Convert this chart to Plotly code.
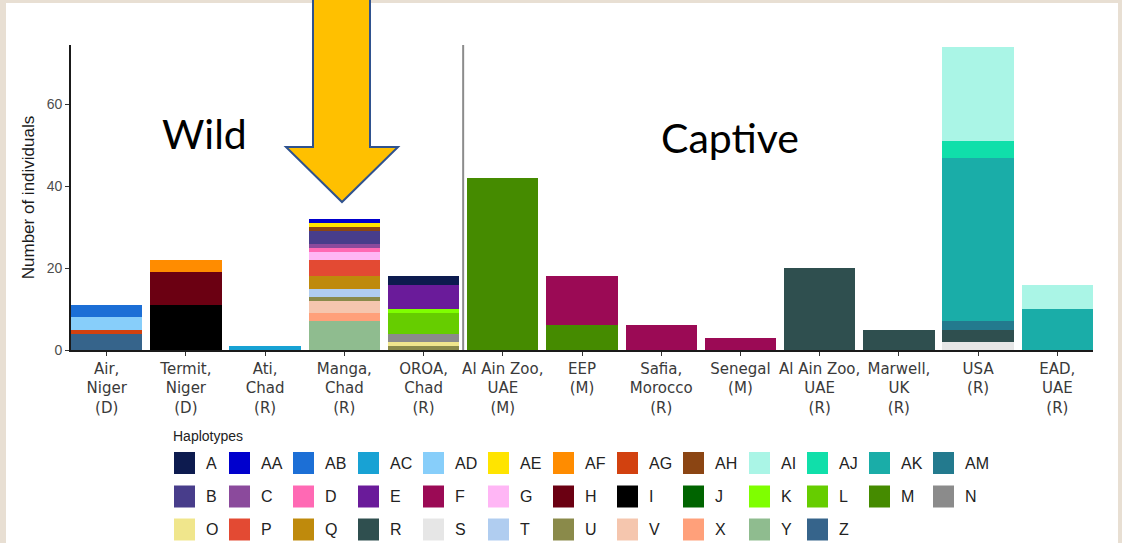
import plotly.graph_objects as go

# ---------------- data ----------------
locations = [
    "Air,<br>Niger<br>(D)", "Termit,<br>Niger<br>(D)", "Ati,<br>Chad<br>(R)",
    "Manga,<br>Chad<br>(R)", "OROA,<br>Chad<br>(R)", "Al Ain Zoo,<br>UAE<br>(M)",
    "EEP<br>(M)", "Safia,<br>Morocco<br>(R)", "Senegal<br>(M)",
    "Al Ain Zoo,<br>UAE<br>(R)", "Marwell,<br>UK<br>(R)", "USA<br>(R)", "EAD,<br>UAE<br>(R)",
]

haplotypes = ["A", "AA", "AB", "AC", "AD", "AE", "AF", "AG", "AH", "AI", "AJ", "AK", "AM",
              "B", "C", "D", "E", "F", "G", "H", "I", "J", "K", "L", "M", "N",
              "O", "P", "Q", "R", "S", "T", "U", "V", "X", "Y", "Z"]

hap_colors = ["#0D1B4F", "#0000CD", "#1C6FD6", "#18A2D4", "#87CEFA", "#FFE400", "#FF8C00",
              "#D2410F", "#8B4513", "#AAF5E6", "#10DFAA", "#1AADA8", "#237A8E",
              "#483D8B", "#8B4A9C", "#FF69B4", "#6A1B9A", "#9B0A55", "#FFB6F5", "#6B0012",
              "#000000", "#006400", "#7FFF00", "#66CD00", "#458B00", "#8B8B8B",
              "#F0E68C", "#E34A33", "#BF8A0C", "#2F4F4F", "#E6E6E6", "#B0CDF0", "#8A8A4A",
              "#F5C6AE", "#FFA07A", "#8FBC8F", "#36648B"]

air_niger = {"AB": 3, "AD": 3, "AG": 1, "Z": 4}
termit_niger = {"AF": 3, "H": 8, "I": 11}
ati_chad = {"AC": 1}
manga_chad = {"AA": 1, "AE": 1, "AH": 1, "B": 3, "C": 1, "D": 1, "G": 2, "P": 4,
              "Q": 3, "T": 2, "U": 1, "V": 3, "X": 2, "Y": 7}
oroa_chad = {"A": 2, "E": 6, "K": 1, "L": 5, "N": 2, "O": 1, "U": 1}
alain_m = {"M": 42}
eep_m = {"F": 12, "M": 6}
safia_morocco = {"F": 6}
senegal_m = {"F": 3}
alain_r = {"R": 20}
marwell_uk = {"R": 5}
usa_r = {"AI": 23, "AJ": 4, "AK": 40, "AM": 2, "R": 3, "S": 2}
ead_uae = {"AI": 6, "AK": 10}

compositions = [air_niger, termit_niger, ati_chad, manga_chad, oroa_chad, alain_m, eep_m,
                safia_morocco, senegal_m, alain_r, marwell_uk, usa_r, ead_uae]

y_ticks = [0, 20, 40, 60]

# ---------------- layout constants ----------------
W, H = 1122, 543
PL, PR, PT, PB = 71, 1093, 45, 350


def px(x):
    return (x - PL) / (PR - PL)


def py(y):
    return (PB - y) / (PB - PT)


fig = go.Figure()

# stacked bars: first haplotype (alphabetically) on top, as in ggplot
for hap, col in reversed(list(zip(haplotypes, hap_colors))):
    vals = [c.get(hap, 0) for c in compositions]
    if sum(vals) == 0:
        continue
    fig.add_trace(go.Bar(
        x=locations, y=vals, name=hap, marker=dict(color=col, line=dict(width=0)),
        showlegend=False,
    ))

shapes = []
annotations = []

# page frame (slide look)
shapes.append(dict(type="rect", xref="paper", yref="paper", layer="below",
                   x0=px(6), x1=px(1118), y0=py(543), y1=py(3),
                   fillcolor="white", line=dict(width=0)))

# separator between wild and captive
shapes.append(dict(type="line", xref="x", yref="paper", x0=4.5, x1=4.5, y0=0, y1=1,
                   line=dict(color="#8C8C8C", width=2)))

# big arrow pointing at Manga
arrow_pts = [(313, -5), (313, 147), (286, 147), (342, 202), (398, 147), (370, 147), (370, -5)]
path = "M " + " L ".join(f"{px(a):.5f},{py(b):.5f}" for a, b in arrow_pts) + " Z"
shapes.append(dict(type="path", xref="paper", yref="paper", path=path,
                   fillcolor="#FFC000", line=dict(color="#2F528F", width=2), layer="above"))

annotations.append(dict(text="Wild", xref="paper", yref="paper", x=px(204), y=py(133),
                        showarrow=False, xanchor="center", yanchor="middle",
                        font=dict(family="Lato", size=41, color="#000000")))
annotations.append(dict(text="Captive", xref="paper", yref="paper", x=px(730), y=py(137),
                        showarrow=False, xanchor="center", yanchor="middle",
                        font=dict(family="Lato", size=41, color="#000000")))

# manual legend (ggplot-like)
col_x = [174, 229, 293, 358, 423, 488, 553, 617, 683, 749, 807, 869, 933]
row_y = [463, 496.5, 529.5]
sw, sh = 21, 22
annotations.append(dict(text="Haplotypes", xref="paper", yref="paper", x=px(171), y=py(436),
                        showarrow=False, xanchor="left", yanchor="middle",
                        font=dict(family="Liberation Sans", size=14, color="#222222")))
for i, (hap, col) in enumerate(zip(haplotypes, hap_colors)):
    r, c = divmod(i, 13)
    x0 = col_x[c]
    yc = row_y[r]
    shapes.append(dict(type="rect", xref="paper", yref="paper",
                       x0=px(x0), x1=px(x0 + sw), y0=py(yc + sh / 2), y1=py(yc - sh / 2),
                       fillcolor=col, line=dict(width=0)))
    annotations.append(dict(text=hap, xref="paper", yref="paper", x=px(x0 + sw + 9), y=py(yc),
                            showarrow=False, xanchor="left", yanchor="middle",
                            font=dict(family="Liberation Sans", size=16, color="#222222")))

fig.update_layout(
    width=W, height=H,
    margin=dict(l=PL, r=W - PR, t=PT, b=H - PB, pad=0),
    paper_bgcolor="#E8DFD3", plot_bgcolor="white",
    barmode="stack", bargap=0.1,
    shapes=shapes, annotations=annotations,
    showlegend=False,
)
fig.update_xaxes(
    range=[-0.45, 12.45], showgrid=False, zeroline=False,
    showline=True, linecolor="#1A1A1A", linewidth=1.6,
    ticks="outside", ticklen=4, tickcolor="#333333", tickwidth=1,
    tickfont=dict(family="DejaVu Sans", size=15, color="#3A3A3A"),
    tickangle=0,
)
fig.update_yaxes(
    range=[0, 74.5], showgrid=False, zeroline=False,
    showline=True, linecolor="#1A1A1A", linewidth=1.6,
    ticks="outside", ticklen=4, tickcolor="#333333", tickwidth=1,
    tickvals=y_ticks, ticktext=[str(v) for v in y_ticks],
    tickfont=dict(family="Liberation Sans", size=14, color="#4D4D4D"),
    title=dict(text="Number of individuals", standoff=8,
               font=dict(family="Liberation Sans", size=17, color="#1A1A1A")),
)

fig.write_html(
    "out.html",
    config={"displayModeBar": False},
    post_script="document.body.style.margin='0';document.body.style.padding='0';"
                "document.body.style.overflow='hidden';",
)
